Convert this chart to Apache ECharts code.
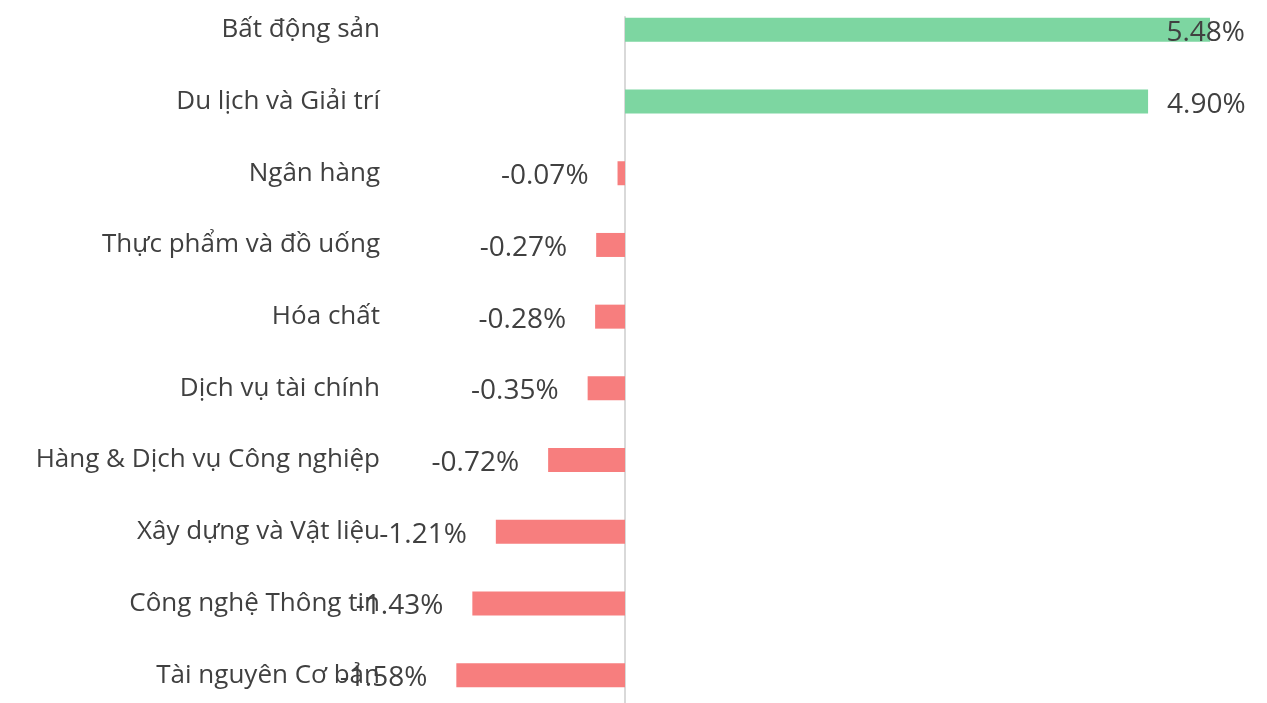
<!DOCTYPE html>
<html>
<head>
<meta charset="utf-8">
<script src="https://cdn.jsdelivr.net/npm/echarts@6/dist/echarts.min.js"></script>
<style>
html,body{margin:0;padding:0;background:#fff;}
#chart{width:1267px;height:703px;}
</style>
</head>
<body>
<div id="chart"></div>
<script>
const categories = ["Bất động sản","Du lịch và Giải trí","Ngân hàng","Thực phẩm và đồ uống","Hóa chất","Dịch vụ tài chính","Hàng & Dịch vụ Công nghiệp","Xây dựng và Vật liệu","Công nghệ Thông tin","Tài nguyên Cơ bản"];
const values = [5.48, 4.90, -0.07, -0.27, -0.28, -0.35, -0.72, -1.21, -1.43, -1.58];

const GREEN = '#7dd6a1', RED = '#f77e7e', TXT = '#404040';
const FONT = 'Open Sans';

const seriesData = values.map((v, i) => {
  let label;
  if (v < 0) {
    label = {position: 'left', distance: 29, offset: [0, 3]};
  } else if (i === 0) {
    label = {position: 'insideRight', distance: 0, offset: [35, 3]};
  } else {
    label = {position: 'right', distance: 22, offset: [-3, 3]};
  }
  return {value: v, itemStyle: {color: v >= 0 ? GREEN : RED}, label};
});

const chart = echarts.init(document.getElementById('chart'), null, {renderer: 'canvas'});
chart.setOption({
  animation: false,
  grid: [
    {left: 411.5, right: 1.5, top: -6, height: 717, containLabel: false, outerBoundsMode: 'none'},
    {left: 625, width: 10, top: 17, bottom: 0, containLabel: false, outerBoundsMode: 'none'}
  ],
  xAxis: [
    {type: 'value', gridIndex: 0, min: -2, max: 6, show: false},
    {type: 'value', gridIndex: 1, show: false}
  ],
  yAxis: [
    {
      type: 'category', gridIndex: 0, data: categories, inverse: true,
      axisLine: {show: false}, axisTick: {show: false}, splitLine: {show: false},
      axisLabel: {margin: 31.5, color: TXT, fontSize: 26, fontFamily: FONT, padding: [6, 0, 0, 0]}
    },
    {
      type: 'value', gridIndex: 1,
      axisLine: {show: true, lineStyle: {color: '#d9d9d9', width: 2}},
      axisTick: {show: false}, axisLabel: {show: false}, splitLine: {show: false}
    }
  ],
  series: [{
    type: 'bar', xAxisIndex: 0, yAxisIndex: 0,
    data: seriesData,
    barWidth: 24,
    label: {show: true, formatter: p => p.value.toFixed(2) + '%', color: TXT, fontSize: 28, fontFamily: FONT}
  }]
});
</script>
</body>
</html>
